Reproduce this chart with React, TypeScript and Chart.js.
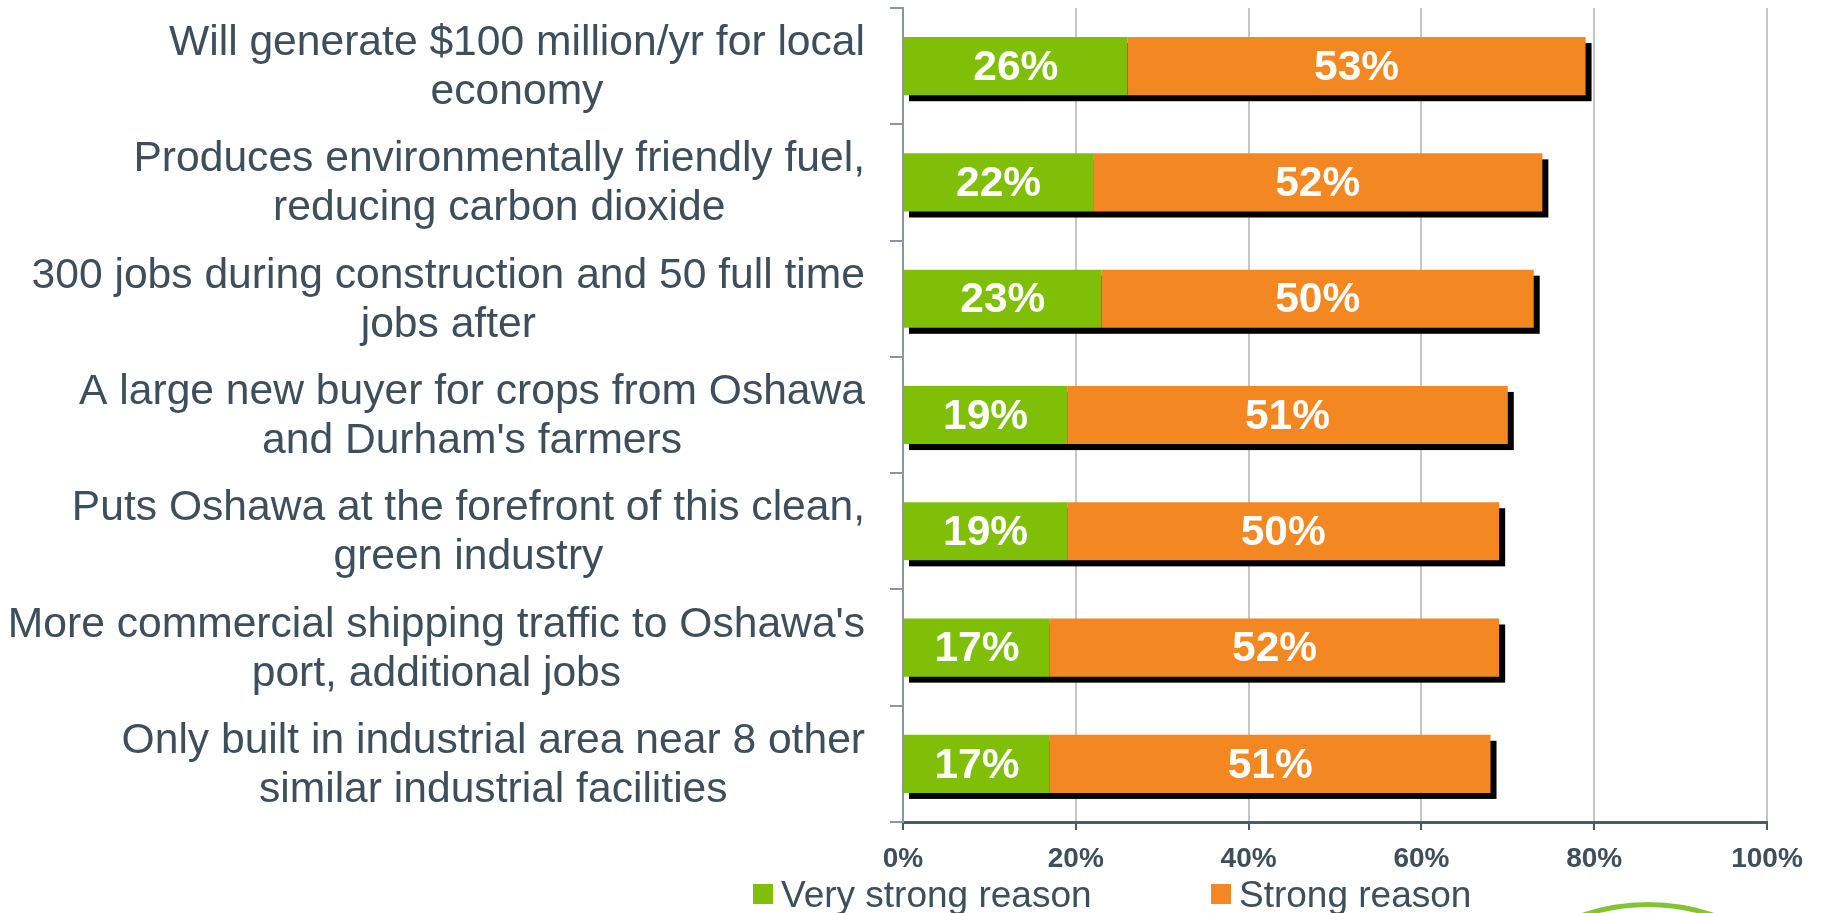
import React, { useEffect, useRef } from 'react';
import { Chart, registerables } from 'chart.js';

Chart.register(...registerables);

const categories: string[][] = [
  ['Will generate $100 million/yr for local', 'economy'],
  ['Produces environmentally friendly fuel,', 'reducing carbon dioxide'],
  ['300 jobs during construction and 50 full time', 'jobs after'],
  ['A large new buyer for crops from Oshawa', "and Durham's farmers"],
  ['Puts Oshawa at the forefront of this clean,', 'green industry'],
  ["More commercial shipping traffic to Oshawa's", 'port, additional jobs'],
  ['Only built in industrial area near 8 other', 'similar industrial facilities'],
];
const veryStrong = [26, 22, 23, 19, 19, 17, 17];
const strong = [53, 52, 50, 51, 50, 52, 51];
const xTickValues = [0, 20, 40, 60, 80, 100];
const seriesNames = ['Very strong reason', 'Strong reason'];
const seriesColors = ['#7fbf07', '#f38722'];

const FONT = '"Liberation Sans", Arial, Helvetica, sans-serif';
const TEXT = '#3e4e5a';

const shadowPlugin = {
  id: 'barShadow',
  beforeDatasetsDraw(chart: any) {
    const ctx = chart.ctx;
    const xs = chart.scales.x;
    const meta0 = chart.getDatasetMeta(0);
    ctx.save();
    ctx.fillStyle = '#000000';
    meta0.data.forEach((el: any, i: number) => {
      const total = chart.data.datasets.reduce((s: number, d: any) => s + (d.data[i] || 0), 0);
      const left = xs.getPixelForValue(0);
      const right = xs.getPixelForValue(total);
      const p = el.getProps(['y', 'height'], true);
      ctx.fillRect(left + 6, p.y - p.height / 2 + 6, right - left, p.height);
    });
    ctx.restore();
  },
};

const textPlugin = {
  id: 'textDraw',
  afterDraw(chart: any) {
    const ctx = chart.ctx;
    const ys = chart.scales.y;
    ctx.save();
    // category labels: block right-aligned, lines centered inside
    ctx.font = `42.6px ${FONT}`;
    ctx.fillStyle = TEXT;
    ctx.textAlign = 'center';
    ctx.textBaseline = 'alphabetic';
    const rightEdge = 865;
    categories.forEach((lines, i) => {
      const cy = ys.getPixelForValue(i);
      const w = Math.max(...lines.map((l) => ctx.measureText(l).width));
      const cx = rightEdge - w / 2;
      const n = lines.length;
      lines.forEach((line, j) => {
        ctx.fillText(line, cx, cy + (j - (n - 1) / 2) * 49 + 13.5);
      });
    });
    // data labels
    ctx.font = `bold 42.5px ${FONT}`;
    ctx.fillStyle = '#ffffff';
    ctx.textBaseline = 'middle';
    chart.data.datasets.forEach((ds: any, di: number) => {
      const meta = chart.getDatasetMeta(di);
      meta.data.forEach((el: any, i: number) => {
        const p = el.getProps(['x', 'y', 'base'], true);
        ctx.fillText(`${ds.data[i]}%`, (p.x + p.base) / 2, p.y + 2);
      });
    });
    // legend
    ctx.font = `37px ${FONT}`;
    ctx.textAlign = 'left';
    ctx.textBaseline = 'alphabetic';
    const legendX = [753, 1211];
    seriesNames.forEach((name, i) => {
      ctx.fillStyle = seriesColors[i];
      ctx.fillRect(legendX[i], 884, 20, 20);
      ctx.fillStyle = TEXT;
      ctx.fillText(name, legendX[i] + 28, 907);
    });
    // decorative logo arc
    ctx.beginPath();
    ctx.strokeStyle = '#84c234';
    ctx.lineWidth = 5;
    ctx.arc(1648, 1107.5, 203, 0, Math.PI * 2);
    ctx.stroke();
    ctx.restore();
  },
};

export default function App() {
  const ref = useRef<HTMLCanvasElement | null>(null);
  useEffect(() => {
    if (!ref.current) return;
    const chart = new Chart(ref.current, {
      type: 'bar',
      data: {
        labels: categories.map((c) => c.join(' ')),
        datasets: [
          {
            label: seriesNames[0],
            data: veryStrong,
            backgroundColor: seriesColors[0],
            categoryPercentage: 1,
            barPercentage: 0.5,
          },
          {
            label: seriesNames[1],
            data: strong,
            backgroundColor: seriesColors[1],
            categoryPercentage: 1,
            barPercentage: 0.5,
          },
        ],
      },
      options: {
        indexAxis: 'y',
        responsive: false,
        animation: false,
        layout: { padding: { top: 8, right: 55, left: 0, bottom: 0 } },
        plugins: {
          legend: { display: false },
          tooltip: { enabled: false },
        },
        scales: {
          x: {
            stacked: true,
            min: 0,
            max: 100,
            afterBuildTicks: (s: any) => {
              s.ticks = xTickValues.map((v) => ({ value: v }));
            },
            afterFit: (s: any) => {
              s.height = 91;
            },
            ticks: {
              callback: (v: any) => `${v}%`,
              font: { family: FONT, size: 28, weight: 'bold' },
              color: TEXT,
              padding: 12,
            },
            grid: {
              color: '#c6c6c6',
              lineWidth: 2,
              tickColor: '#4a5862',
              tickLength: 8,
              tickWidth: 2,
            },
            border: { color: '#4d5b66', width: 3 },
          },
          y: {
            stacked: true,
            afterFit: (s: any) => {
              s.width = 903;
            },
            ticks: { display: false },
            grid: {
              drawOnChartArea: false,
              offset: true,
              color: '#8c96a0',
              tickLength: 13,
              lineWidth: 2,
            },
            border: { color: '#8c96a0', width: 2 },
          },
        },
      },
      plugins: [shadowPlugin, textPlugin],
    });
    return () => chart.destroy();
  }, []);
  return (
    <div style={{ position: 'absolute', left: 0, top: 0, width: 1822, height: 913, background: '#fff' }}>
      <canvas ref={ref} width={1822} height={913} style={{ display: 'block' }} />
    </div>
  );
}
